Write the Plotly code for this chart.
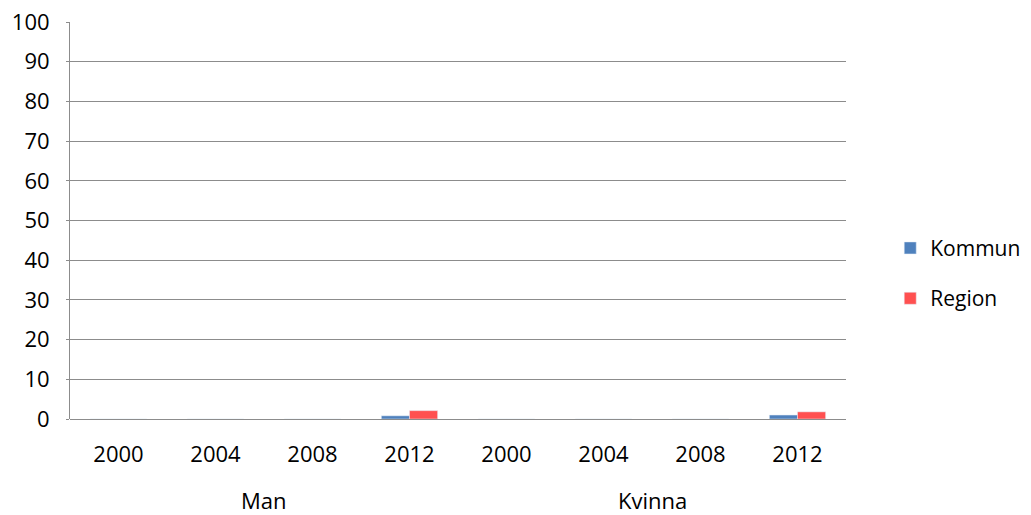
import plotly.graph_objects as go

groups = ["Man", "Kvinna"]
years = ["2000", "2004", "2008", "2012"]
categories = [f"{g} {y}" for g in groups for y in years]
tick_labels = years * 2
kommun = [0, 0, 0, 0.8, 0, 0, 0, 1.0]
region = [0, 0, 0, 2.1, 0, 0, 0, 1.8]

font = "Open Sans"
grid = "#8c8c8c"

fig = go.Figure()
fig.add_trace(go.Bar(x=categories, y=kommun, name="Kommun", marker_color="#4F81BD", legendgroup="k"))
fig.add_trace(go.Bar(x=categories, y=region, name="Region", marker_color="#FF5050", legendgroup="r"))

for i, g in enumerate(groups):
    fig.add_annotation(x=i * 4 + 1.5, y=0, xref="x", yref="paper", yshift=-81, yanchor="middle",
                       text=g, showarrow=False, font=dict(family=font, size=22, color="#000"))

fig.update_layout(
    width=1031, height=515,
    paper_bgcolor="white", plot_bgcolor="white",
    margin=dict(l=70, r=185, t=22, b=96, autoexpand=False),
    barmode="group", bargap=0.42, bargroupgap=0,
    font=dict(family=font, size=22, color="#000"),
    legend=dict(x=1.057, y=0.367, xanchor="left", yanchor="middle",
                tracegroupgap=20, font=dict(family=font, size=21),
                itemwidth=30),
    showlegend=True,
)
fig.update_xaxes(type="category", tickmode="array", tickvals=categories, ticktext=tick_labels,
                 showline=False, showgrid=False, ticks="outside", ticklen=16,
                 tickcolor="rgba(0,0,0,0)", zeroline=False, automargin=False)
fig.update_yaxes(range=[0, 100], dtick=10, showgrid=True, gridcolor=grid, gridwidth=1,
                 showline=True, linecolor=grid, linewidth=1, ticks="outside", ticklen=3,
                 tickcolor=grid, zeroline=True, zerolinecolor=grid, zerolinewidth=1,
                 automargin=False, ticklabelstandoff=12, ticklabeloverflow="allow")
fig.write_html("out.html", config={"displayModeBar": False},
               post_script="document.body.style.margin='0px';document.body.style.overflow='hidden';")
